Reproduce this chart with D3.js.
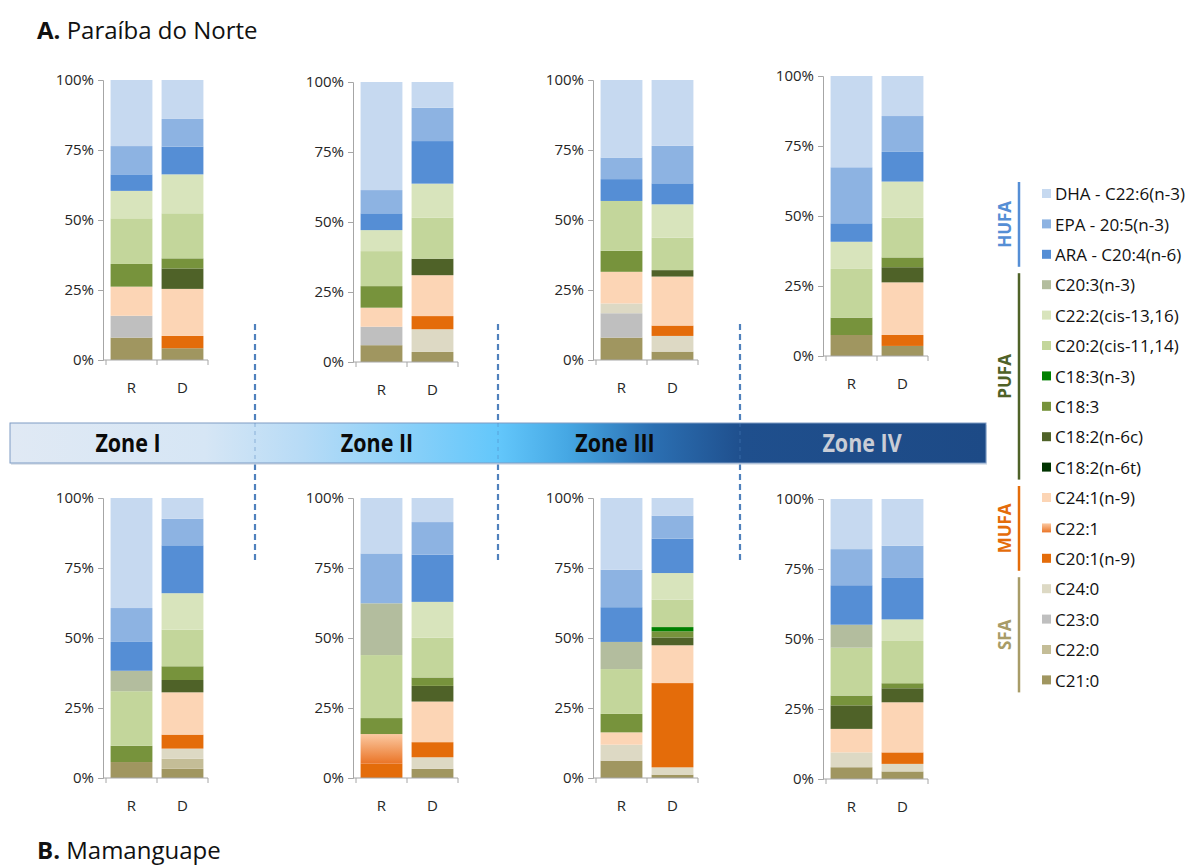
<!DOCTYPE html>
<html>
<head>
<meta charset="utf-8">
<script src="https://cdn.jsdelivr.net/npm/d3@7"></script>
<style>
  body { margin: 0; background: #fff; }
  svg { display: block; font-family: "Open Sans", "Noto Sans", sans-serif; }
</style>
</head>
<body>
<svg id="chart" width="1195" height="865"></svg>
<script>
// Fatty acids in legend order (top of stack first)
const fattyAcids = [
  "DHA - C22:6(n-3)", "EPA - 20:5(n-3)", "ARA - C20:4(n-6)",
  "C20:3(n-3)", "C22:2(cis-13,16)", "C20:2(cis-11,14)", "C18:3(n-3)", "C18:3", "C18:2(n-6c)", "C18:2(n-6t)",
  "C24:1(n-9)", "C22:1", "C20:1(n-9)",
  "C24:0", "C23:0", "C22:0", "C21:0"
];
const acidColors = [
  "#c6d9f0", "#8db3e2", "#558ed5",
  "#b3bd9e", "#d8e4bc", "#c3d69b", "#008000", "#77933c", "#4f6228", "#003300",
  "#fcd5b5", "url(#c221)", "#e46c0a",
  "#ddd9c4", "#bfbfbf", "#c4bd97", "#a09660"
];
const groupNames = ["HUFA", "PUFA", "MUFA", "SFA"];
const groupSizes = [3, 7, 3, 4];
const groupColors = ["#558ed5", "#4f6228", "#e46c0a", "#a89c68"];

const sites = ["R", "D"];
const zones = ["Zone I", "Zone II", "Zone III", "Zone IV"];
const yTicks = [0, 25, 50, 75, 100];

// Relative composition (%), one array per sample, in legend order
const norteZoneI_R   = [23.6, 10.1, 5.9, 0, 9.8, 16.3, 0, 8.1, 0, 0, 10.4, 0, 0, 0, 7.8, 0, 8.0];
const norteZoneI_D   = [13.9, 9.9, 9.9, 0, 13.9, 16.1, 0, 3.6, 7.3, 0, 16.8, 0, 4.4, 0, 0, 0, 4.2];
const norteZoneII_R  = [38.6, 8.3, 6.0, 0, 7.5, 12.5, 0, 7.7, 0, 0, 6.8, 0, 0, 0, 6.6, 0, 6.0];
const norteZoneII_D  = [9.2, 11.9, 15.2, 0, 12.2, 14.6, 0, 0, 5.9, 0, 14.6, 0, 4.7, 8.1, 0, 0, 3.6];
const norteZoneIII_R = [27.7, 7.7, 7.8, 0, 0, 17.8, 0, 7.5, 0, 0, 11.3, 0, 0, 3.5, 8.7, 0, 8.0];
const norteZoneIII_D = [23.5, 13.4, 7.5, 0, 11.9, 11.6, 0, 0, 2.3, 0, 17.5, 0, 3.7, 5.6, 0, 0, 3.0];
const norteZoneIV_R  = [32.6, 20.0, 6.6, 0, 9.7, 17.4, 0, 6.2, 0, 0, 0, 0, 0, 0, 0, 0, 7.5];
const norteZoneIV_D  = [14.3, 12.8, 10.6, 0, 12.9, 14.2, 0, 3.5, 5.4, 0, 18.8, 0, 3.9, 0, 0, 0, 3.6];

const mamZoneI_R   = [39.3, 12.1, 10.3, 7.3, 0, 19.5, 0, 5.8, 0, 0, 0, 0, 0, 0, 0, 0, 5.7];
const mamZoneI_D   = [7.4, 9.5, 17.1, 0, 13.0, 13.1, 0, 4.9, 4.4, 0, 15.1, 0, 5.0, 3.6, 0, 3.6, 3.3];
const mamZoneII_R  = [19.8, 17.8, 0, 18.5, 0, 22.5, 0, 5.7, 0, 0, 0, 10.6, 5.1, 0, 0, 0, 0];
const mamZoneII_D  = [8.6, 11.6, 16.9, 0, 12.8, 14.2, 0, 3.0, 5.6, 0, 14.5, 0, 5.4, 4.1, 0, 0, 3.3];
const mamZoneIII_R = [25.6, 13.4, 12.4, 9.7, 0, 16.0, 0, 6.6, 0, 0, 4.4, 0, 0, 5.7, 0, 0, 6.2];
const mamZoneIII_D = [6.3, 8.2, 12.3, 0, 9.5, 9.8, 1.5, 2.2, 2.8, 0, 13.5, 0, 30.1, 2.6, 0, 0, 1.2];
const mamZoneIV_R  = [17.9, 12.9, 14.1, 8.2, 0, 17.1, 0, 3.5, 8.4, 0, 8.4, 0, 0, 5.3, 0, 0, 4.2];
const mamZoneIV_D  = [16.7, 11.5, 14.8, 0, 7.7, 15.1, 0, 1.8, 5.0, 0, 17.9, 0, 4.1, 2.7, 0, 0, 2.7];

const norteSamples = [[norteZoneI_R, norteZoneI_D], [norteZoneII_R, norteZoneII_D],
                      [norteZoneIII_R, norteZoneIII_D], [norteZoneIV_R, norteZoneIV_D]];
const mamSamples = [[mamZoneI_R, mamZoneI_D], [mamZoneII_R, mamZoneII_D],
                    [mamZoneIII_R, mamZoneIII_D], [mamZoneIV_R, mamZoneIV_D]];

// ---- layout ----
const panelLeft = [103, 353, 593, 823];
const topRowY = [80, 82, 80, 76];
const bottomRowY = [498, 498, 498, 499];
const plotH = 280, plotW = 105;

const svg = d3.select("#chart");
const defs = svg.append("defs");

// shaded fill for C22:1
const g221 = defs.append("linearGradient").attr("id", "c221")
  .attr("x1", 0).attr("y1", 0).attr("x2", 0).attr("y2", 1);
g221.append("stop").attr("offset", "0%").attr("stop-color", "#fbc9a2");
g221.append("stop").attr("offset", "100%").attr("stop-color", "#ea7426");

// zone band gradient
const bandX0 = 10, bandX1 = 986;
const bg = defs.append("linearGradient").attr("id", "zoneband")
  .attr("gradientUnits", "userSpaceOnUse")
  .attr("x1", bandX0).attr("x2", bandX1).attr("y1", 0).attr("y2", 0);
[["0", "#e0e9f4"], ["0.2", "#d6e6f5"], ["0.3", "#b7dbf6"], ["0.5", "#63c7fb"],
 ["0.57", "#46a8e4"], ["0.66", "#2b6fb2"], ["0.75", "#1f4f8d"], ["1", "#1d4a86"]]
  .forEach(([o, c]) => bg.append("stop").attr("offset", o).attr("stop-color", c));

const stackKeys = d3.range(fattyAcids.length).reverse(); // bottom = C21:0
const y = d3.scaleLinear().domain([0, 100]);
const x = d3.scaleBand().domain(sites).paddingInner(0.18).paddingOuter(0.09);

function drawPanel(left, top, pair) {
  const g = svg.append("g").attr("transform", `translate(${left},${top})`);
  y.range([plotH, 0]);
  x.range([3, plotW]);
  const rows = sites.map((s, i) => {
    const o = { site: s };
    pair[i].forEach((v, k) => o[k] = v);
    return o;
  });
  const series = d3.stack().keys(stackKeys)(rows);
  g.selectAll("g.layer").data(series).join("g").attr("class", "layer")
    .attr("fill", d => acidColors[d.key])
    .selectAll("rect").data(d => d).join("rect")
    .attr("x", d => x(d.data.site))
    .attr("width", x.bandwidth())
    .attr("y", d => y(d[1]))
    .attr("height", d => Math.max(0, y(d[0]) - y(d[1])));

  // value axis
  const ya = g.append("g").call(d3.axisLeft(y).tickValues(yTicks).tickSize(5).tickFormat(d => d + "%"));
  ya.select(".domain").attr("stroke", "#a6a6a6");
  ya.selectAll(".tick line").attr("stroke", "#a6a6a6");
  ya.selectAll(".tick text").attr("font-size", 15).attr("fill", "#262626")
    .attr("font-family", "'Open Sans', sans-serif").attr("x", -9);

  // category axis
  const xa = g.append("g").attr("transform", `translate(0,${plotH})`);
  xa.append("line").attr("x1", 0).attr("x2", plotW).attr("stroke", "#a6a6a6");
  const bounds = [x.range()[0], x(sites[1]) - x.step() * x.paddingInner() / 2, x.range()[1]];
  xa.selectAll("line.tk").data(bounds).join("line").attr("class", "tk")
    .attr("x1", d => d).attr("x2", d => d).attr("y1", 0).attr("y2", 5).attr("stroke", "#a6a6a6");
  xa.selectAll("text").data(sites).join("text")
    .attr("x", d => x(d) + x.bandwidth() / 2).attr("y", 33)
    .attr("text-anchor", "middle").attr("font-size", 15).attr("fill", "#262626")
    .text(d => d);
}

norteSamples.forEach((pair, i) => drawPanel(panelLeft[i], topRowY[i], pair));
mamSamples.forEach((pair, i) => drawPanel(panelLeft[i], bottomRowY[i], pair));

// dashed zone separators
const sepX = [255, 498, 740];
const sepG = svg.append("g");
sepG.selectAll("line").data(sepX).join("line")
  .attr("x1", d => d).attr("x2", d => d).attr("y1", 324).attr("y2", 560)
  .attr("stroke", "#4f81bd").attr("stroke-width", 2.2).attr("stroke-dasharray", "6,4");

// zone band
const bandY = 423, bandH = 40;
svg.append("rect").attr("x", bandX0 + 1).attr("y", bandY + 2).attr("width", bandX1 - bandX0)
  .attr("height", bandH).attr("fill", "#c9d3df").attr("opacity", 0.6);
svg.append("rect").attr("x", bandX0).attr("y", bandY).attr("width", bandX1 - bandX0)
  .attr("height", bandH).attr("fill", "url(#zoneband)").attr("stroke", "#7f9cc4").attr("stroke-width", 1);
svg.append("g").selectAll("line").data(sepX).join("line")
  .attr("x1", d => d).attr("x2", d => d).attr("y1", bandY).attr("y2", bandY + bandH)
  .attr("stroke", "#4f81bd").attr("stroke-width", 1).attr("stroke-dasharray", "4,4").attr("opacity", 0.5);

const zoneCx = [128, 377, 615, 862];
svg.append("g").selectAll("text").data(zones).join("text")
  .attr("transform", (d, i) => `translate(${zoneCx[i]},${bandY + 29}) scale(0.86,1)`)
  .attr("text-anchor", "middle").attr("font-weight", 700).attr("font-size", 25)
  .attr("fill", (d, i) => i === 3 ? "#c9cdd6" : "#0a0a0a")
  .text(d => d);

// titles
const titles = [["A.", " Paraíba do Norte", 39], ["B.", " Mamanguape", 859]];
titles.forEach(([a, b, ty]) => {
  const t = svg.append("text").attr("x", 37).attr("y", ty).attr("font-size", 24).attr("fill", "#111");
  t.append("tspan").attr("font-weight", 700).text(a);
  t.append("tspan").text(b);
});

// legend
const legY0 = 194, legStep = 30.4, swX = 1042, txX = 1055, lineX = 1019;
const leg = svg.append("g");
leg.selectAll("rect").data(fattyAcids).join("rect")
  .attr("x", swX).attr("y", (d, i) => legY0 + i * legStep - 5)
  .attr("width", 9).attr("height", 9).attr("fill", (d, i) => acidColors[i]);
leg.selectAll("text").data(fattyAcids).join("text")
  .attr("x", txX).attr("y", (d, i) => legY0 + i * legStep).attr("dy", "0.36em")
  .attr("font-size", 17).attr("fill", "#111").text(d => d);

let start = 0;
groupNames.forEach((name, gi) => {
  const first = start, last = start + groupSizes[gi] - 1;
  start += groupSizes[gi];
  const yA = legY0 + first * legStep - 12, yB = legY0 + last * legStep + 12;
  leg.append("line").attr("x1", lineX).attr("x2", lineX).attr("y1", yA).attr("y2", yB)
    .attr("stroke", groupColors[gi]).attr("stroke-width", 2.5);
  const cy = (yA + yB) / 2;
  leg.append("text").attr("transform", `translate(1011,${cy}) rotate(-90)`)
    .attr("text-anchor", "middle").attr("font-weight", 700).attr("font-size", 17)
    .attr("fill", groupColors[gi]).text(name);
});
</script>
</body>
</html>
